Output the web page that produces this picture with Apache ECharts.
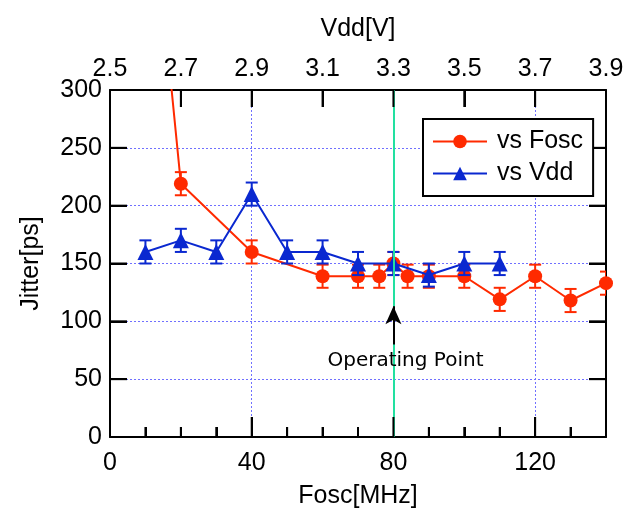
<!DOCTYPE html>
<html>
<head>
<meta charset="utf-8">
<script src="https://cdn.jsdelivr.net/npm/echarts@6/dist/echarts.min.js"></script>
<style>
  html, body { margin: 0; padding: 0; background: #fff; }
  #chart { width: 627px; height: 514px; }
</style>
</head>
<body>
<div id="chart"></div>
<script>
// jitter vs oscillator frequency (bottom axis)
const foscMHz = [10, 20, 40, 60, 70, 76, 80, 84, 90, 100, 110, 120, 130, 140];
const jitterFosc = [530, 219, 160, 139, 139, 139, 150, 139, 139, 139, 119, 139, 118, 133];
const errFosc = [10, 10, 10, 10, 10, 10, 10, 10, 10, 10, 10, 10, 10, 10];

// jitter vs supply voltage (top axis)
const vddV = [2.6, 2.7, 2.8, 2.9, 3.0, 3.1, 3.2, 3.3, 3.4, 3.5, 3.6];
const jitterVdd = [160, 170, 160, 210, 160, 160, 150, 150, 140, 150, 150];
const errVdd = [10, 10, 10, 10, 10, 10, 10, 10, 10, 10, 10];

// ticks and tick labels
const foscLabels = [0, 40, 80, 120];
const foscMinorTicks = [10, 20, 30, 50, 60, 70, 90, 100, 110, 130];
const foscMajorTicks = [40, 80, 120];
const vddTicks = [2.5, 2.7, 2.9, 3.1, 3.3, 3.5, 3.7, 3.9];
const jitterTicks = [50, 100, 150, 200, 250];

// operating point annotation
const opFosc = 80;
const arrowFrom = 80, arrowTo = 113;
const opLabelAt = [83.4, 65.5];

const RED = "#ff2a00";
const BLUE = "#0a28d0";
const FONT = "Liberation Sans";
const gridDot = { color: "#7070ff", width: 1, type: [2, 2] };
const frame = () => ({ show: true, onZero: false, lineStyle: { color: "#000", width: 2 } });
const ticks = (len, extra) =>
  Object.assign({ show: true, inside: true, length: len, lineStyle: { color: "#000", width: 2 } }, extra);

const errorBars = (color) => (params, api) => {
  const x = api.value(0), y = api.value(1), e = api.value(2);
  const lo = api.coord([x, y - e]);
  const hi = api.coord([x, y + e]);
  const w = 6;
  const style = { stroke: color, lineWidth: 2 };
  return {
    type: "group",
    children: [
      { type: "line", shape: { x1: lo[0], y1: lo[1], x2: hi[0], y2: hi[1] }, style },
      { type: "line", shape: { x1: lo[0] - w, y1: lo[1], x2: lo[0] + w, y2: lo[1] }, style },
      { type: "line", shape: { x1: hi[0] - w, y1: hi[1], x2: hi[0] + w, y2: hi[1] }, style }
    ]
  };
};

// short inward marks on the frame, placed through the axes' own scales
const tickMarks = (dx, dy) => (params, api) => {
  const p = api.coord([api.value(0), api.value(1)]);
  return {
    type: "line",
    shape: { x1: p[0], y1: p[1], x2: p[0] + dx, y2: p[1] + dy },
    style: { stroke: "#000", lineWidth: 2 }
  };
};
const tickSeries = (xAxisIndex, data, dx, dy) => ({
  type: "custom", xAxisIndex, yAxisIndex: 0, silent: true, clip: false, z: 6,
  data, renderItem: tickMarks(dx, dy)
});

const chart = echarts.init(document.getElementById("chart"));

const option = {
  animation: false,
  textStyle: { fontFamily: FONT },
  grid: { left: 110, right: 21, top: 90, bottom: 76 },
  legend: {
    orient: "vertical",
    left: 423,
    top: 119,
    z: 10,
    data: ["vs Fosc", "vs Vdd"],
    backgroundColor: "#fff",
    borderColor: "#000",
    borderWidth: 2,
    padding: [10, 10, 10, 9],
    itemWidth: 54,
    itemHeight: 17,
    itemGap: 7,
    textStyle: { fontSize: 25, color: "#000", fontFamily: FONT, padding: [0, 0, 0, 5] }
  },
  xAxis: [
    {
      type: "value", position: "bottom", min: 0, max: 140, interval: 10,
      name: "Fosc[MHz]", nameLocation: "middle", nameGap: 47,
      nameTextStyle: { fontSize: 25, color: "#000" },
      axisLine: frame(),
      axisTick: ticks(10),
      axisLabel: {
        fontSize: 25, color: "#000", margin: 14,
        formatter: (v) => (foscLabels.indexOf(v) >= 0 ? String(v) : "")
      },
      splitLine: { show: false }
    },
    {
      type: "value", position: "top", min: 2.5, max: 3.9,
      name: "Vdd[V]", nameLocation: "middle", nameGap: 48,
      nameTextStyle: { fontSize: 25, color: "#000" },
      axisLine: frame(),
      axisTick: ticks(17, { customValues: vddTicks }),
      axisLabel: { fontSize: 25, color: "#000", margin: 8, customValues: vddTicks, formatter: (v) => v.toFixed(1) },
      splitLine: { show: false }
    },
    {
      type: "value", position: "bottom", min: 0, max: 140, interval: 40,
      axisLine: { show: false, onZero: false },
      axisTick: ticks(20),
      axisLabel: { show: false },
      splitLine: { show: true, showMinLine: false, showMaxLine: false, lineStyle: gridDot }
    }
  ],
  yAxis: [
    {
      type: "value", position: "left", min: 0, max: 300, interval: 50,
      name: "Jitter[ps]", nameLocation: "middle", nameGap: 66,
      nameTextStyle: { fontSize: 25, color: "#000" },
      axisLine: frame(),
      axisTick: ticks(17),
      axisLabel: { fontSize: 25, color: "#000", margin: 8 },
      splitLine: { show: true, showMinLine: false, showMaxLine: false, lineStyle: gridDot }
    },
    {
      type: "value", position: "right", min: 0, max: 300, interval: 50,
      axisLine: frame(),
      axisTick: ticks(17),
      axisLabel: { show: false },
      splitLine: { show: false }
    }
  ],
  series: [
    {
      name: "vs Fosc",
      type: "line",
      xAxisIndex: 0, yAxisIndex: 0,
      data: foscMHz.map((f, i) => [f, jitterFosc[i]]),
      symbol: "circle", symbolSize: 14,
      clip: true,
      lineStyle: { color: RED, width: 2 },
      itemStyle: { color: RED },
      z: 3,
      markLine: {
        silent: true,
        label: { show: false },
        symbol: ["none", "none"],
        data: [
          { xAxis: opFosc, lineStyle: { color: "#22e0a0", width: 2, type: "solid" } },
          [
            { coord: [opFosc, arrowFrom], lineStyle: { color: "#000", width: 2, type: "solid" } },
            { coord: [opFosc, arrowTo], symbol: "arrow", symbolSize: [12, 18], itemStyle: { color: "#000" } }
          ]
        ]
      },
      markPoint: {
        silent: true,
        symbol: "rect",
        symbolSize: 0,
        data: [{ coord: opLabelAt }],
        label: {
          show: true, position: "inside", formatter: "Operating Point",
          fontFamily: "DejaVu Sans", fontSize: 20, color: "#000"
        }
      }
    },
    {
      name: "errFosc",
      type: "custom",
      xAxisIndex: 0, yAxisIndex: 0,
      clip: true,
      data: foscMHz.map((f, i) => [f, jitterFosc[i], errFosc[i]]),
      renderItem: errorBars(RED),
      z: 3
    },
    {
      name: "vs Vdd",
      type: "line",
      xAxisIndex: 1, yAxisIndex: 0,
      data: vddV.map((v, i) => [v, jitterVdd[i]]),
      symbol: "triangle", symbolSize: 16,
      lineStyle: { color: BLUE, width: 2 },
      itemStyle: { color: BLUE },
      z: 4
    },
    {
      name: "errVdd",
      type: "custom",
      xAxisIndex: 1, yAxisIndex: 0,
      clip: true,
      data: vddV.map((v, i) => [v, jitterVdd[i], errVdd[i]]),
      renderItem: errorBars(BLUE),
      z: 4
    },
    // frame ticks: bottom minor, bottom major, top Vdd, left and right jitter
    tickSeries(0, foscMinorTicks.map((f) => [f, 0]), 0, -10),
    tickSeries(0, foscMajorTicks.map((f) => [f, 0]), 0, -20),
    tickSeries(1, vddTicks.slice(1, -1).map((v) => [v, 300]), 0, 17),
    tickSeries(0, jitterTicks.map((j) => [0, j]), 17, 0),
    tickSeries(0, jitterTicks.map((j) => [140, j]), -17, 0)
  ]
};

chart.setOption(option);
window.addEventListener("resize", () => chart.resize());
</script>
</body>
</html>
